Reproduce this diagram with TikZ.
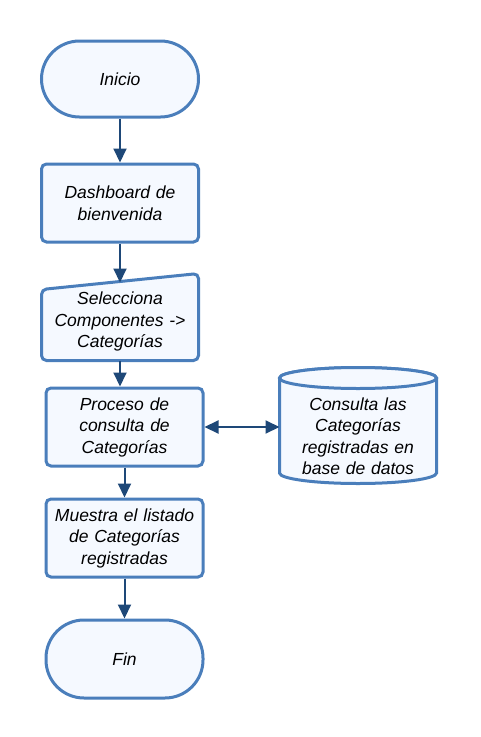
\documentclass[tikz,border=0pt]{standalone}
\usepackage{fontspec}
\setmainfont{Liberation Sans}
\usepackage{xcolor}
\usetikzlibrary{positioning, arrows.meta, backgrounds}

\definecolor{borde}{RGB}{74,126,187}
\definecolor{relleno}{RGB}{245,249,255}
\definecolor{flecha}{RGB}{30,72,120}

\tikzset{
    caja/.style={draw=borde, fill=relleno, line width=3pt, rounded corners=5pt,
        minimum width=157pt, minimum height=78pt, text width=150pt, align=center,
        font=\itshape\fontsize{17.5}{21.5}\selectfont},
    terminal/.style={caja, rounded corners=38pt},
    texto/.style={caja, draw=none, fill=none, outer sep=0pt},
    contorno/.style={draw=borde, fill=relleno, line width=3pt},
    flujo/.style={draw=flecha, line width=2pt, -{Triangle[length=14pt,width=13pt]}},
}

\begin{document}
\begin{tikzpicture}
        \useasboundingbox (0,0) rectangle (480pt,-737pt);

        \node[terminal, minimum height=76pt]       (inicio) at (120pt,-79pt) {Inicio};
        \node[caja, below=44pt of inicio]           (dash) {Dashboard de\\bienvenida};
        \node[texto, below=39pt of dash]            (sel) {Selecciona\\Componentes ->\\Categorías};
        \node[caja, below=26pt of sel, xshift=4.5pt] (proc) {Proceso de\\consulta de\\Categorías};
        \node[texto, right=75pt of proc, yshift=-9pt, minimum height=104pt] (db)
            {Consulta las\\Categorías\\registradas en\\base de datos};
        \node[caja, below=30pt of proc]             (muestra) {Muestra el listado\\de Categorías\\registradas};
        \node[terminal, below=40pt of muestra]      (fin) {Fin};

        \begin{scope}[on background layer]
            % entrada manual
            \draw[contorno, rounded corners=5pt]
                ([yshift=-7pt]sel.north west) -- ([yshift=9pt]sel.north east)
                -- (sel.south east) -- (sel.south west) -- cycle;
            % base de datos
            \draw[contorno]
                ([yshift=6pt]db.north west) -- ([yshift=15pt]db.south west)
                arc[start angle=180, end angle=360, x radius=78.5pt, y radius=10.5pt]
                -- ([yshift=6pt]db.north east)
                arc[start angle=0, end angle=180, x radius=78.5pt, y radius=10.5pt] -- cycle;
            \draw[contorno] ([yshift=6pt]db.north) ellipse[x radius=78.5pt, y radius=10.5pt];
        \end{scope}

        \draw[flujo] (inicio) -- (dash);
        \draw[flujo] (dash) -- (sel);
        \draw[flujo] (sel.south) -- (sel.south |- proc.north);
        \draw[flujo, {Triangle[length=14pt,width=13pt]}-{Triangle[length=14pt,width=13pt]}]
            (proc.east) -- (proc.east -| db.west);
        \draw[flujo] (proc) -- (muestra);
        \draw[flujo] (muestra) -- (fin);
\end{tikzpicture}
\end{document}
